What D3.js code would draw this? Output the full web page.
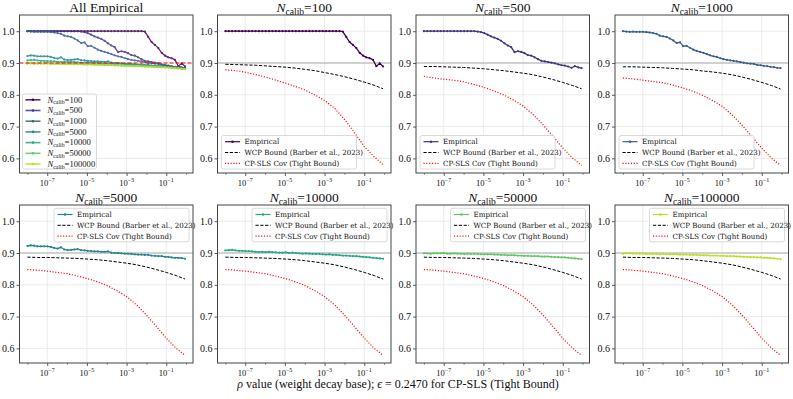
<!DOCTYPE html>
<html>
<head>
<meta charset="utf-8">
<script src="https://cdn.jsdelivr.net/npm/d3@7"></script>
<style>
  body { margin: 0; background: #fff; }
  text { font-family: "Liberation Serif", "DejaVu Serif", serif; fill: #111; }
  text.leg { font-family: "DejaVu Serif", serif; }
</style>
</head>
<body>
<svg id="chart" width="793" height="399"></svg>
<script>

// rho grid, as log10 exponents
var rhoExponent = [-8.00,-7.83,-7.66,-7.49,-7.32,-7.15,-6.99,-6.82,-6.65,-6.48,
  -6.31,-6.14,-5.97,-5.80,-5.63,-5.46,-5.29,-5.12,-4.96,-4.79,
  -4.62,-4.45,-4.28,-4.11,-3.94,-3.77,-3.60,-3.43,-3.26,-3.09,
  -2.93,-2.76,-2.59,-2.42,-2.25,-2.08,-1.91,-1.74,-1.57,-1.40,
  -1.23,-1.06,-0.90,-0.73,-0.56,-0.39,-0.22,-0.05];

// coarser grid for the two bounds
var boundExponent = [-8,-7.5,-7,-6.5,-6,-5.5,-5,-4.5,-4,-3.5,-3,-2.5,-2,-1.5,-1,-0.5,-0.05];

var calibSizes = [100, 500, 1000, 5000, 10000, 50000, 100000];
var calibColors = ['#440154', '#46337f', '#355f8d', '#25858e', '#22a884', '#5ec962', '#bddf26'];

var emp100 = [1,1,1,1,1,1,1,1,1,1, 1,1,1,1,1,1,1,1,1,1, 1,1,1,1,1,1,1,1,1,1, 1,1,1,1,1,0.999,
  0.982,0.966,0.957,0.947,0.932,0.923,0.918,0.915,0.910,0.890,0.899,0.889];
var emp500 = [1,1,1,1,1,1,1,1,1,1, 1,1,1,1,1,1,
  0.999,0.997,0.994,0.989,0.984,0.980,0.976,0.970,0.962,0.955,0.950,0.934,0.937,0.935,0.931,0.925,
  0.923,0.918,0.912,0.907,0.905,0.903,0.901,0.899,0.896,0.893,0.892,0.889,0.885,0.890,0.886,0.884];
var emp1000 = [1.000,0.999,0.998,0.999,0.998,0.998,0.998,0.997,0.996,0.994,
  0.992,0.986,0.984,0.982,0.977,0.971,0.963,0.965,0.953,0.954,
  0.948,0.942,0.938,0.935,0.932,0.928,0.924,0.921,0.919,0.915,
  0.912,0.910,0.908,0.907,0.905,0.903,0.901,0.899,0.898,0.897,
  0.894,0.893,0.891,0.890,0.888,0.887,0.885,0.884];
var emp5000 = [0.922,0.924,0.923,0.921,0.921,0.921,0.921,0.919,0.916,0.914,
  0.918,0.911,0.909,0.910,0.911,0.912,0.909,0.908,0.907,0.906,
  0.905,0.905,0.904,0.904,0.905,0.901,0.900,0.900,0.899,0.898,
  0.898,0.897,0.896,0.895,0.895,0.894,0.894,0.892,0.891,0.890,
  0.890,0.888,0.888,0.886,0.885,0.885,0.884,0.882];
var emp10000 = [0.908,0.909,0.910,0.908,0.907,0.907,0.906,0.906,0.905,0.904,
  0.903,0.904,0.903,0.904,0.903,0.902,0.901,0.901,0.902,0.900,
  0.901,0.900,0.899,0.898,0.899,0.898,0.897,0.897,0.897,0.896,
  0.895,0.896,0.894,0.894,0.893,0.892,0.892,0.891,0.890,0.890,
  0.889,0.888,0.887,0.886,0.885,0.884,0.883,0.882];
var emp50000 = [0.899,0.899,0.898,0.899,0.899,0.899,0.900,0.898,0.898,0.899,
  0.898,0.898,0.897,0.898,0.897,0.897,0.897,0.896,0.896,0.896,
  0.896,0.895,0.895,0.894,0.894,0.893,0.893,0.893,0.892,0.892,
  0.891,0.891,0.890,0.890,0.890,0.889,0.889,0.889,0.888,0.887,
  0.887,0.886,0.886,0.885,0.884,0.883,0.882,0.881];
var emp100000 = [0.898,0.899,0.899,0.898,0.898,0.898,0.898,0.897,0.898,0.897,
  0.897,0.896,0.897,0.896,0.896,0.896,0.896,0.895,0.895,0.895,
  0.894,0.894,0.894,0.893,0.893,0.893,0.892,0.892,0.892,0.891,
  0.891,0.890,0.890,0.890,0.889,0.889,0.888,0.888,0.887,0.887,
  0.886,0.886,0.885,0.885,0.884,0.883,0.882,0.881];

// WCP bound (Barber et al., 2023)
var wcp100 = [0.896,0.895,0.894,0.893,0.891,0.889,0.887,0.884,0.880,0.876,0.870,0.864,0.857,0.849,0.840,0.830,0.819];
var wcp500 = [0.889,0.889,0.888,0.887,0.886,0.884,0.882,0.879,0.876,0.872,0.868,0.863,0.856,0.848,0.839,0.829,0.819];
var wcp1000 = [0.888,0.888,0.887,0.886,0.885,0.883,0.881,0.879,0.875,0.872,0.868,0.863,0.856,0.848,0.839,0.829,0.818];
var wcpLarge = [0.887,0.886,0.886,0.885,0.884,0.883,0.881,0.879,0.876,0.872,0.868,0.863,0.856,0.848,0.839,0.829,0.818];

// CP-SLS coverage (tight bound)
var sls100 = [0.879,0.876,0.871,0.864,0.856,0.847,0.837,0.827,0.815,0.800,0.782,0.758,0.723,0.682,0.637,0.605,0.580];
var sls500 = [0.858,0.853,0.849,0.846,0.841,0.833,0.824,0.813,0.800,0.784,0.765,0.738,0.706,0.670,0.633,0.601,0.578];
var sls1000 = [0.853,0.850,0.846,0.842,0.838,0.831,0.822,0.812,0.799,0.783,0.764,0.737,0.705,0.669,0.632,0.600,0.578];
var slsLarge = [0.848,0.846,0.843,0.839,0.835,0.828,0.820,0.810,0.798,0.782,0.763,0.737,0.705,0.669,0.632,0.600,0.578];

var yTicks = [0.6, 0.7, 0.8, 0.9, 1.0];
var xMajor = [-7, -5, -3, -1];
var xMinor = [-8, -6, -4, -2, 0];

var empirical = [emp100, emp500, emp1000, emp5000, emp10000, emp50000, emp100000];
var wcpBounds = [wcp100, wcp500, wcp1000, wcpLarge, wcpLarge, wcpLarge, wcpLarge];
var slsBounds = [sls100, sls500, sls1000, slsLarge, slsLarge, slsLarge, slsLarge];

var svg = d3.select('#chart');
var W = 173.5, H = 158;
var colLeft = [19.5, 217.5, 416, 615];
var rowTop = [15, 205];

function nLabel(sel, n, size) {
  sel.append('tspan').attr('font-style', 'italic').text('N');
  sel.append('tspan').attr('font-size', size * 0.68).attr('dy', size * 0.22).text('calib');
  sel.append('tspan').attr('dy', -size * 0.22).text('=' + n);
}

function toPoints(exps, vals) {
  return exps.map(function(e, i){ return [Math.pow(10, e), vals[i]]; });
}

function drawPanel(i) {
  var left = colLeft[i % 4], top = rowTop[Math.floor(i / 4)];
  var x = d3.scaleLog().domain([Math.pow(10, -8.3975), Math.pow(10, 0.3475)]).range([left, left + W]);
  var y = d3.scaleLinear().domain([0.554, 1.051]).range([top + H, top]);
  var g = svg.append('g');

  g.append('clipPath').attr('id', 'clip' + i)
    .append('rect').attr('x', left).attr('y', top).attr('width', W).attr('height', H);

  // grid
  g.selectAll('.vg').data(xMajor).enter().append('line')
    .attr('x1', function(d){ return x(Math.pow(10, d)); }).attr('x2', function(d){ return x(Math.pow(10, d)); })
    .attr('y1', top).attr('y2', top + H)
    .attr('stroke', '#e6e6e6').attr('stroke-width', 0.8);
  g.selectAll('.hg').data(yTicks).enter().append('line')
    .attr('x1', left).attr('x2', left + W)
    .attr('y1', function(d){ return y(d); }).attr('y2', function(d){ return y(d); })
    .attr('stroke', '#e6e6e6').attr('stroke-width', 0.8);

  var plot = g.append('g').attr('clip-path', 'url(#clip' + i + ')');
  var line = d3.line().x(function(d){ return x(d[0]); }).y(function(d){ return y(d[1]); });

  function empLine(k, op) {
    var pts = toPoints(rhoExponent, empirical[k]);
    var s = plot.append('g').attr('opacity', op);
    s.append('path').attr('d', line(pts)).attr('fill', 'none')
      .attr('stroke', calibColors[k]).attr('stroke-width', 1.3);
    s.selectAll('circle').data(pts).enter().append('circle')
      .attr('cx', function(d){ return x(d[0]); }).attr('cy', function(d){ return y(d[1]); })
      .attr('r', 1.1).attr('fill', calibColors[k]);
  }

  var title = g.append('text').attr('x', left + W / 2).attr('y', top - 3.5)
    .attr('text-anchor', 'middle').attr('font-size', 13.5);

  if (i === 0) {
    title.text('All Empirical');
    calibSizes.forEach(function(n, k){ empLine(k, 0.85); });
    plot.append('line').attr('x1', left).attr('x2', left + W)
      .attr('y1', y(0.9)).attr('y2', y(0.9))
      .attr('stroke', '#ff0000').attr('stroke-width', 1.2).attr('stroke-dasharray', '4,2');
  } else {
    var k = i - 1;
    nLabel(title, calibSizes[k], 14);
    plot.append('line').attr('x1', left).attr('x2', left + W)
      .attr('y1', y(0.9)).attr('y2', y(0.9))
      .attr('stroke', '#c4c4c4').attr('stroke-width', 1.4);
    empLine(k, 1);
    plot.append('path').attr('d', line(toPoints(boundExponent, wcpBounds[k])))
      .attr('fill', 'none').attr('stroke', '#000').attr('stroke-width', 1)
      .attr('stroke-dasharray', '3.2,1.6');
    plot.append('path').attr('d', line(toPoints(boundExponent, slsBounds[k])))
      .attr('fill', 'none').attr('stroke', '#ff0000').attr('stroke-width', 1.2)
      .attr('stroke-dasharray', '1.1,1.7');
  }

  // axes
  var xAx = g.append('g').attr('transform', 'translate(0,' + (top + H) + ')')
    .call(d3.axisBottom(x).tickValues(xMajor.map(function(e){ return Math.pow(10, e); }))
      .tickSize(3).tickFormat(function(){ return ''; }));
  xAx.select('.domain').remove();
  xAx.selectAll('line').attr('stroke', '#333').attr('stroke-width', 0.8);
  var xMin = g.append('g').attr('transform', 'translate(0,' + (top + H) + ')')
    .call(d3.axisBottom(x).tickValues(xMinor.map(function(e){ return Math.pow(10, e); }).filter(function(v){ return v <= x.domain()[1]; }))
      .tickSize(1.8).tickFormat(function(){ return ''; }));
  xMin.select('.domain').remove();
  xMin.selectAll('line').attr('stroke', '#333').attr('stroke-width', 0.6);

  xMajor.forEach(function(e){
    var t = g.append('text').attr('x', x(Math.pow(10, e))).attr('y', top + H + 13)
      .attr('text-anchor', 'middle').attr('font-size', 8.5);
    t.append('tspan').text('10');
    t.append('tspan').attr('font-size', 6).attr('dy', -4).text('\u2212' + (-e));
  });

  var yAx = g.append('g').attr('transform', 'translate(' + left + ',0)')
    .call(d3.axisLeft(y).tickValues(yTicks).tickSize(3).tickPadding(2).tickFormat(d3.format('.1f')));
  yAx.select('.domain').remove();
  yAx.selectAll('line').attr('stroke', '#333').attr('stroke-width', 0.8);
  yAx.selectAll('text').attr('font-size', 10).attr('font-family', '"Liberation Serif", serif').attr('fill', '#222');

  g.append('rect').attr('x', left).attr('y', top).attr('width', W).attr('height', H)
    .attr('fill', 'none').attr('stroke', '#444').attr('stroke-width', 1);

  // legend
  if (i === 0) {
    var lx = left + 3, ly = top + H - 79;
    g.append('rect').attr('x', lx).attr('y', ly).attr('width', 74).attr('height', 75).attr('rx', 2)
      .attr('fill', '#fff').attr('fill-opacity', 0.8).attr('stroke', '#d0d0d0').attr('stroke-width', 0.8);
    calibSizes.forEach(function(n, k){
      var yy = ly + 5.8 + k * 10.7;
      g.append('line').attr('x1', lx + 3).attr('x2', lx + 18).attr('y1', yy).attr('y2', yy)
        .attr('stroke', calibColors[k]).attr('stroke-width', 1.6).attr('opacity', 0.85);
      g.append('circle').attr('cx', lx + 10.5).attr('cy', yy).attr('r', 1.3).attr('fill', calibColors[k]);
      var t = g.append('text').attr('x', lx + 25).attr('y', yy + 2.7).attr('font-size', 8.6);
      nLabel(t, n, 8.6);
    });
  } else {
    var k2 = i - 1;
    var lw = 135, lh = 33.5;
    var lx2 = i < 4 ? left + 4 : left + W - 4 - lw;
    var ly2 = i < 4 ? top + H - 4 - lh : top + 3.3;
    g.append('rect').attr('x', lx2).attr('y', ly2).attr('width', lw).attr('height', lh).attr('rx', 2)
      .attr('fill', '#fff').attr('fill-opacity', 0.8).attr('stroke', '#d0d0d0').attr('stroke-width', 0.8);
    var entries = [
      {label: 'Empirical', color: calibColors[k2], dash: null, w: 1.2, marker: true},
      {label: 'WCP Bound (Barber et al., 2023)', color: '#000', dash: '3.2,1.6', w: 1, marker: false},
      {label: 'CP-SLS Cov (Tight Bound)', color: '#ff0000', dash: '1.1,1.7', w: 1.2, marker: false}
    ];
    entries.forEach(function(en, j){
      var yy = ly2 + 6.2 + j * 10.8;
      g.append('line').attr('x1', lx2 + 3.5).attr('x2', lx2 + 18.5).attr('y1', yy).attr('y2', yy)
        .attr('stroke', en.color).attr('stroke-width', en.w).attr('stroke-dasharray', en.dash);
      if (en.marker) g.append('circle').attr('cx', lx2 + 11).attr('cy', yy).attr('r', 1.2).attr('fill', en.color);
      g.append('text').attr('class', 'leg').attr('x', lx2 + 23).attr('y', yy + 2.4).attr('font-size', 7.1).text(en.label);
    });
  }
}

for (var p = 0; p < 8; p++) drawPanel(p);

// shared x label
var xl = svg.append('text').attr('x', 398).attr('y', 388).attr('text-anchor', 'middle').attr('font-size', 12);
xl.append('tspan').attr('font-style', 'italic').text('\u03c1');
xl.append('tspan').text(' value (weight decay base); ');
xl.append('tspan').attr('font-style', 'italic').text('\u03f5');
xl.append('tspan').text(' = 0.2470 for CP-SLS (Tight Bound)');

</script>
</body>
</html>
